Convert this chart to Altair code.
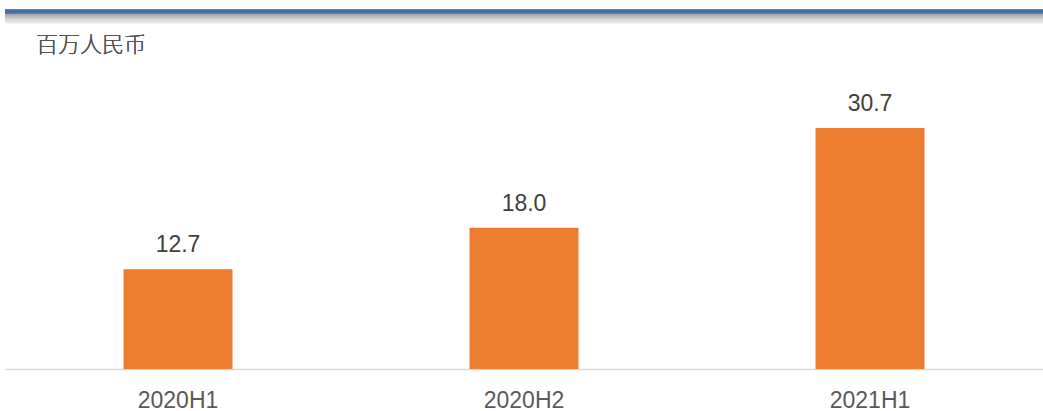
import altair as alt
import pandas as pd

periods = ["2020H1", "2020H2", "2021H1"]
values = [12.7, 18.0, 30.7]
labels = ["12.7", "18.0", "30.7"]
unit_label = "百万人民币"

df = pd.DataFrame({"period": periods, "value": values, "label": labels})

W = 1038
H = 314

base = alt.Chart(df).encode(
    x=alt.X(
        "period:N",
        sort=periods,
        scale=alt.Scale(paddingInner=0, paddingOuter=0),
        axis=alt.Axis(
            title=None,
            labelAngle=0,
            labelFontSize=23,
            labelFont="Liberation Sans",
            labelColor="#595959",
            labelBaseline="alphabetic",
            labelPadding=38,
            ticks=False,
            tickSize=0,
            domainColor="#d9d9d9",
            domainWidth=1.5,
            grid=False,
        ),
    ),
    y=alt.Y(
        "value:Q",
        scale=alt.Scale(domain=[0, 40], nice=False),
        axis=None,
    ),
)

bars = base.mark_bar(color="#ED7D31", size=109)
text = base.mark_text(
    dy=-17,
    baseline="alphabetic",
    fontSize=23,
    font="Liberation Sans",
    color="#404040",
).encode(text="label:N")

# top blue rule with soft shadow
layers = []
for i, op in enumerate([0.32, 0.26, 0.20, 0.15, 0.11, 0.08, 0.05, 0.03]):
    layers.append(
        alt.Chart(df).mark_rule(color="#7f7f7f", opacity=op, strokeWidth=1.3, clip=False).encode(
            x=alt.value(0), x2=alt.value(W + 5), y=alt.value(-40.5 + i * 1.3)
        )
    )
top_line = alt.Chart(df).mark_rule(color="#4472A8", strokeWidth=4, clip=False).encode(
    x=alt.value(0), x2=alt.value(W + 5), y=alt.value(-43.5)
)
unit = alt.Chart(df).mark_text(
    align="left",
    baseline="middle",
    fontSize=22,
    font="Noto Sans CJK SC",
    fontWeight=300,
    color="#555555",
    clip=False,
).encode(x=alt.value(31), y=alt.value(-10), text=alt.value(unit_label))

chart = alt.layer(*layers, top_line, bars, text, unit).properties(
    width=W,
    height=H,
    padding={"left": 5, "top": 55, "right": 0, "bottom": 42},
    autosize=alt.AutoSizeParams(type="none"),
    background="white",
).configure_view(stroke=None)

chart.save("out.html", embed_options={"renderer": "svg", "actions": False})
